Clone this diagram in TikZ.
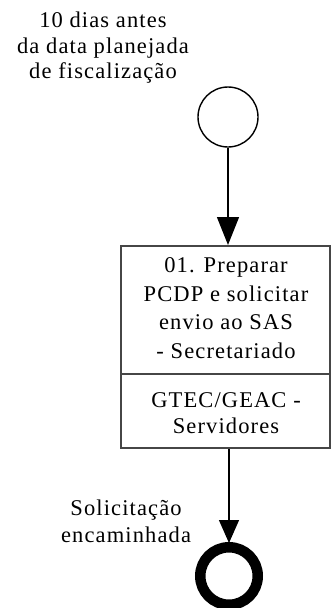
\documentclass[tikz,border=0pt]{standalone}
\usepackage{fontspec}
\setmainfont[LetterSpace=5]{Liberation Serif}
\usetikzlibrary{arrows.meta,positioning}

\tikzset{
  rotulo/.style={align=center,font=\fontsize{22.5}{25.5}\selectfont,inner sep=0pt},
  tarefa/.style={draw={rgb,255:red,70;green,70;blue,70},line width=2pt,minimum width=209pt,minimum height=202pt,inner sep=0pt},
  fluxo/.style={line width=1.3pt,-{Triangle[length=28pt,width=22pt]}}
}

\begin{document}
\begin{tikzpicture}[x=1pt,y=1pt]
\useasboundingbox (0,0) rectangle (331,-608); % tamanho da figura
% evento inicial
\node[rotulo] (lblini) at (103,-48) {10 dias antes\\da data planejada\\de fiscaliza\c{c}\~ao};
\node[draw,circle,line width=1.4pt,minimum size=60pt,inner sep=0pt] (inicio) at (228,-117) {};
% atividade
\node[tarefa] (ativ) at (225.5,-347) {};
\coordinate (divE) at (120,-374);
\coordinate (divD) at (331,-374);
\draw[draw={rgb,255:red,70;green,70;blue,70},line width=2pt] (divE) -- (divD);
\node[rotulo,font=\fontsize{22.5}{28.5}\selectfont] (txtativ) at (226,-308) {01. Preparar\\PCDP e solicitar\\envio ao SAS\\- Secretariado};
\node[rotulo,font=\fontsize{22.5}{26}\selectfont] (txtresp) at (226,-413) {GTEC/GEAC -\\Servidores};
% evento final
\node[draw,circle,line width=10.5pt,minimum size=57.5pt,inner sep=0pt] (fim) at (229,-576) {};
\node[rotulo,font=\fontsize{22.5}{27}\selectfont] (lblfim) at (126,-521) {Solicita\c{c}\~ao\\encaminhada};
% conectores
\draw[fluxo] (inicio) -- (ativ.north -| inicio);
\draw[line width=1.3pt,-{Triangle[length=23pt,width=20pt]}] (ativ.south -| fim) -- ([yshift=-1pt]fim.north);
\end{tikzpicture}
\end{document}
